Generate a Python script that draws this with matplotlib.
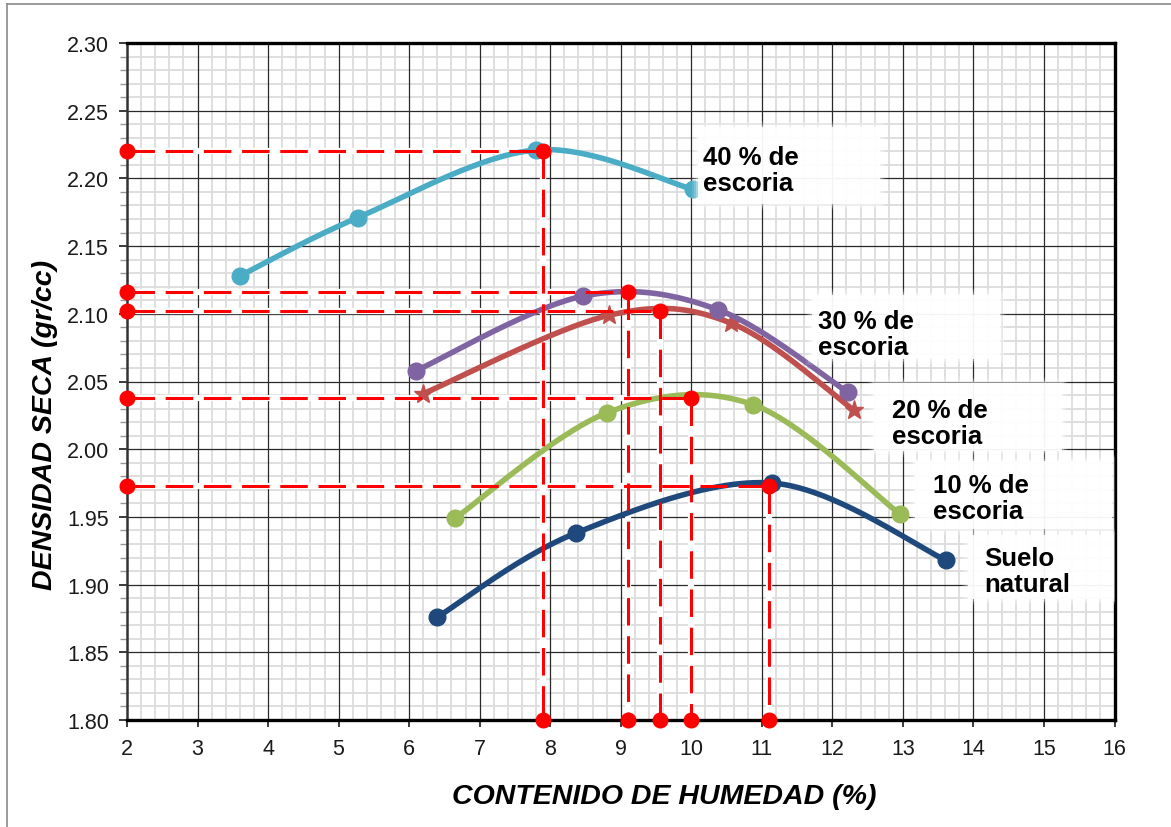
import numpy as np
import matplotlib
matplotlib.use("Agg")
import matplotlib.pyplot as plt
from matplotlib.ticker import MultipleLocator, FormatStrFormatter
from matplotlib.patches import FancyBboxPatch
from matplotlib.lines import Line2D

plt.rcParams['font.family'] = ['Liberation Sans', 'DejaVu Sans']

# Compaction curves: moisture content (%) vs dry density (gr/cc)
natural_x = [6.40, 8.36, 11.15, 13.61]
natural_y = [1.876, 1.938, 1.975, 1.918]
esc10_x = [6.65, 8.81, 10.87, 12.96]
esc10_y = [1.949, 2.027, 2.033, 1.952]
esc20_x = [6.20, 8.84, 10.57, 12.30]
esc20_y = [2.041, 2.099, 2.093, 2.029]
esc30_x = [6.10, 8.46, 10.38, 12.22]
esc30_y = [2.058, 2.113, 2.103, 2.042]
esc40_x = [3.60, 5.27, 7.80, 10.02]
esc40_y = [2.128, 2.171, 2.221, 2.192]

# Optimum moisture content and maximum dry density of each mix
opt_humedad = [7.90, 9.10, 9.55, 10.00, 11.10]
max_densidad = [2.220, 2.116, 2.102, 2.038, 1.973]

series_labels = ["40 % de\nescoria", "30 % de\nescoria", "20 % de\nescoria",
                 "10 % de\nescoria", "Suelo\nnatural"]

x_ticks = list(range(2, 17))
y_ticks = [1.80, 1.85, 1.90, 1.95, 2.00, 2.05, 2.10, 2.15, 2.20, 2.25, 2.30]

W, H = 1171, 828
fig = plt.figure(figsize=(W / 100, H / 100), dpi=100)
ax = fig.add_axes([127 / W, 1 - 721 / H, (1114.5 - 127) / W, (721 - 44) / H])
ax.set_xlim(2, 16)
ax.set_ylim(1.80, 2.30)

ax.set_xticks(x_ticks)
ax.set_yticks(y_ticks)
ax.xaxis.set_minor_locator(MultipleLocator(0.2))
ax.yaxis.set_minor_locator(MultipleLocator(0.01))
ax.yaxis.set_major_formatter(FormatStrFormatter('%.2f'))
ax.tick_params(axis='both', which='major', labelsize=15.5, colors='#1a1a1a',
               direction='out')
ax.tick_params(axis='x', which='major', length=5, width=1.2, pad=8)
ax.tick_params(axis='y', which='major', length=6, width=1.2, pad=7)
ax.tick_params(axis='x', which='minor', length=0)
ax.tick_params(axis='y', which='minor', length=5, width=1.0, color='#999999')

# Grid: light minor lines first, then the dark major lines over them
x_minor = [v for v in np.arange(2.0, 16.001, 0.2) if abs(v - round(v)) > 1e-6]
y_minor = [v for v in np.arange(1.80, 2.3001, 0.01)
           if min(abs(v - t) for t in y_ticks) > 1e-6]
ax.vlines(x_minor, 1.80, 2.30, color='#dcdcdc', lw=1.3, zorder=0.5)
ax.hlines(y_minor, 2, 16, color='#dcdcdc', lw=1.3, zorder=0.5)
ax.vlines(x_ticks[1:-1], 1.80, 2.30, color='#2a2a2a', lw=0.9, zorder=0.6)
ax.hlines(y_ticks[1:-1], 2, 16, color='#2a2a2a', lw=0.9, zorder=0.6)

for side in ['top', 'bottom', 'right']:
    ax.spines[side].set_linewidth(2.4)
    ax.spines[side].set_color('black')
ax.spines['left'].set_linewidth(1.8)
ax.spines['left'].set_color('#333333')


def smooth(xs, ys, n=60):
    """Smoothed line through the points (cubic Bezier, Catmull-Rom tangents)."""
    P = ax.transData.transform(np.column_stack([xs, ys]))
    out = []
    for i in range(len(P) - 1):
        p0 = P[i - 1] if i > 0 else P[i]
        p1, p2 = P[i], P[i + 1]
        p3 = P[i + 2] if i + 2 < len(P) else P[i + 1]
        c1 = p1 + (p2 - p0) / 6.0
        c2 = p2 - (p3 - p1) / 6.0
        t = np.linspace(0, 1, n)[:, None]
        seg = ((1 - t) ** 3) * p1 + 3 * ((1 - t) ** 2) * t * c1 \
            + 3 * (1 - t) * t ** 2 * c2 + t ** 3 * p2
        out.append(seg if i == 0 else seg[1:])
    pts = ax.transData.inverted().transform(np.vstack(out))
    return pts[:, 0], pts[:, 1]


series = [
    (natural_x, natural_y, '#1F497D', 'o'),
    (esc10_x, esc10_y, '#9BBB59', 'o'),
    (esc20_x, esc20_y, '#C0504D', '*'),
    (esc30_x, esc30_y, '#8064A2', 'o'),
    (esc40_x, esc40_y, '#4BACC6', 'o'),
]

# White backing under the dashed reference lines
for xo, yo in zip(opt_humedad, max_densidad):
    ax.plot([2, xo], [yo, yo], color='white', lw=4.5, zorder=2,
            solid_capstyle='butt')
    ax.plot([xo, xo], [yo, 1.80], color='white', lw=4.5, zorder=2,
            solid_capstyle='butt')

for k, (xs, ys, col, mk) in enumerate(series):
    sx, sy = smooth(xs, ys)
    ax.plot(sx, sy, color=col, lw=4.0, zorder=3 + k * 0.1,
            solid_capstyle='round')
    ms = 14 if mk == '*' else 12
    ax.plot(xs, ys, ls='none', marker=mk, ms=ms, color=col, mec=col,
            zorder=3.05 + k * 0.1)

# Dashed lines marking optimum moisture and max dry density
for xo, yo in zip(opt_humedad, max_densidad):
    ax.plot([2, xo], [yo, yo], color='#FF0000', lw=2.2, dashes=(9, 3.5),
            zorder=5, dash_capstyle='butt')
    ax.plot([xo, xo], [yo, 1.80], color='#FF0000', lw=2.2, dashes=(9, 3.5),
            zorder=5, dash_capstyle='butt')
    ax.plot([2, xo, xo], [yo, yo, 1.80], ls='none', marker='o', ms=10.5,
            color='#FF0000', zorder=6, clip_on=False)


def px2data(px, py):
    return (px - 127) / 70.54 + 2, 2.30 - (py - 44) / 1354.0


# Labels: text anchor (left, top) and surrounding white box, in pixels
label_layout = [
    ((703, 146), (698, 128, 880, 205)),
    ((818, 310), (812, 296, 1000, 360)),
    ((892, 399), (874, 384, 1062, 452)),
    ((933, 474), (915, 462, 1112, 530)),
    ((984, 547), (968, 536, 1114, 600)),
]

for text, ((tx, ty), (bx0, by0, bx1, by1)) in zip(series_labels, label_layout):
    x0, y1 = px2data(bx0, by0)
    x1, y0 = px2data(bx1, by1)
    w, h = x1 - x0, y1 - y0
    for j, a in [(6, 0.12), (4, 0.18), (2, 0.3)]:
        dx, dy = j / 70.54, j / 1354.0
        ax.add_patch(FancyBboxPatch((x0 - dx, y0 - dy), w + 2 * dx, h + 2 * dy,
                                    boxstyle='square,pad=0', fc='white',
                                    ec='none', alpha=a, zorder=7))
    ax.add_patch(FancyBboxPatch((x0, y0), w, h, boxstyle='square,pad=0',
                                fc='white', ec='none', alpha=0.9, zorder=7.1))
    lx, ly = px2data(tx, ty)
    ax.text(lx, ly, text, ha='left', va='top', fontsize=18.5,
            fontweight='bold', linespacing=1.08, color='black', zorder=8)

fig.text(45 / W, 1 - 425 / H, 'DENSIDAD SECA (gr/cc)', rotation=90,
         ha='center', va='center', fontsize=20.5, fontweight='bold',
         fontstyle='italic')
fig.text(664 / W, 1 - 797 / H, 'CONTENIDO DE HUMEDAD (%)', ha='center',
         va='center', fontsize=20.5, fontweight='bold', fontstyle='italic')

# Thin frame around the figure
fig.add_artist(Line2D([7 / W, 7 / W], [0, 1 - 5 / H], color='#8a8a8a', lw=1.2,
                      transform=fig.transFigure))
fig.add_artist(Line2D([7 / W, 1], [1 - 5 / H, 1 - 5 / H], color='#8a8a8a',
                      lw=1.2, transform=fig.transFigure))

fig.savefig('out.png', dpi=100)
